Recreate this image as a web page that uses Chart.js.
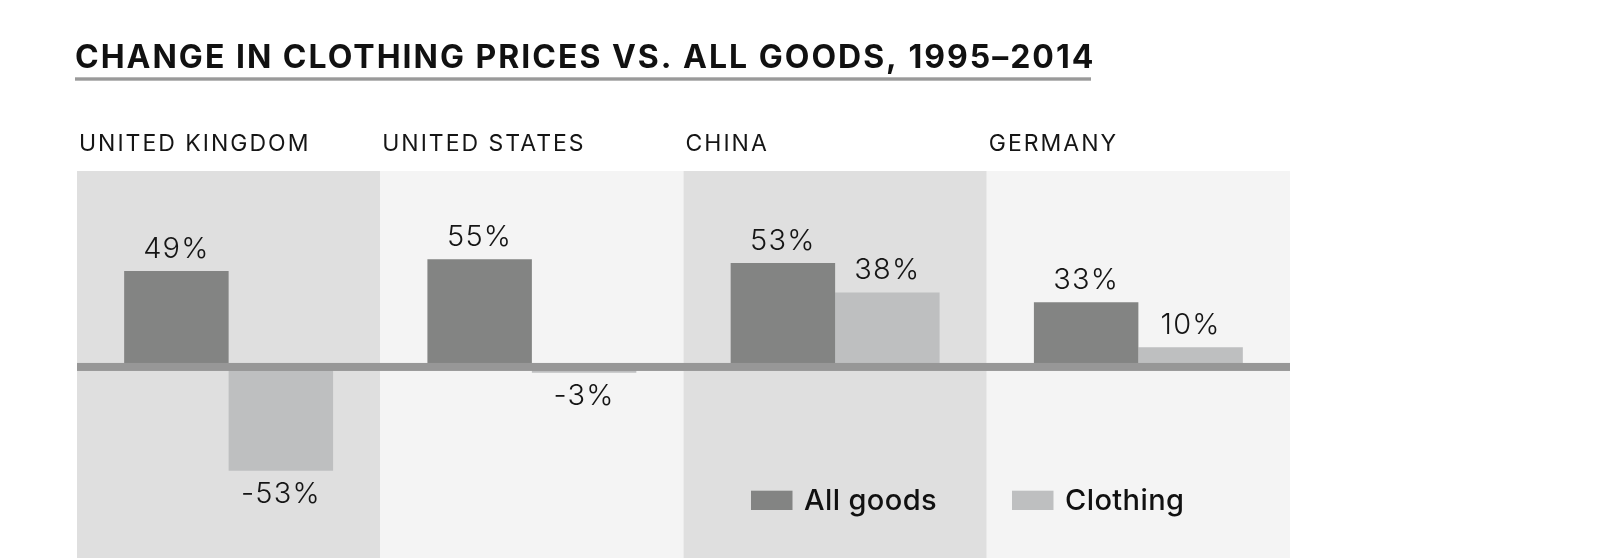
<!DOCTYPE html>
<html>
<head>
<meta charset="utf-8">
<script src="https://cdn.jsdelivr.net/npm/chart.js@4.4.1/dist/chart.umd.min.js"></script>
<style>
  html, body { margin: 0; padding: 0; background: #ffffff; }
  #wrap { width: 1606px; height: 559px; position: relative; }
</style>
</head>
<body>
<div id="wrap"><canvas id="c" width="1606" height="559"></canvas></div>
<script>
const titleText = "CHANGE IN CLOTHING PRICES VS. ALL GOODS, 1995\u20132014";
const countries = ["UNITED KINGDOM", "UNITED STATES", "CHINA", "GERMANY"];
const seriesNames = ["All goods", "Clothing"];
const allGoods = [49, 55, 53, 33];
const clothing = [-53, -3, 38, 10];
const seriesColors = ["#838483", "#bebfc0"];
const bandColors = ["#dfdfdf", "#f4f4f4"];

const FONT = "Inter, 'Open Sans', sans-serif";

const bandsPlugin = {
  id: "bands",
  beforeDatasetsDraw(chart) {
    const { ctx, chartArea, scales } = chart;
    const x = scales.x;
    const w = (chartArea.right - chartArea.left) / countries.length;
    ctx.save();
    countries.forEach((c, i) => {
      const cx = x.getPixelForValue(i);
      ctx.fillStyle = bandColors[i % 2];
      ctx.fillRect(cx - w / 2, chartArea.top, w, chartArea.bottom - chartArea.top);
    });
    ctx.restore();
  },
  afterDatasetsDraw(chart) {
    const { ctx, chartArea, scales } = chart;
    const x = scales.x, y = scales.y;
    const w = (chartArea.right - chartArea.left) / countries.length;
    ctx.save();
    // zero line
    const y0 = y.getPixelForValue(0);
    ctx.fillStyle = "#979797";
    ctx.fillRect(chartArea.left, y0 - 4, chartArea.right - chartArea.left, 8);
    // value labels
    ctx.fillStyle = "#151515";
    ctx.font = "300 29px " + FONT;
    ctx.letterSpacing = "1.2px";
    ctx.textAlign = "center";
    chart.data.datasets.forEach((ds, di) => {
      const meta = chart.getDatasetMeta(di);
      meta.data.forEach((bar, i) => {
        const v = ds.data[i];
        const label = v + "%";
        if (v >= 0) {
          ctx.textBaseline = "alphabetic";
          ctx.fillText(label, bar.x, bar.y - 13);
        } else {
          ctx.textBaseline = "top";
          ctx.fillText(label, bar.x, bar.y + 9);
        }
      });
    });
    // country labels
    ctx.font = "400 23px " + FONT;
    ctx.letterSpacing = "2px";
    ctx.textAlign = "left";
    ctx.textBaseline = "alphabetic";
    countries.forEach((c, i) => {
      const cx = x.getPixelForValue(i);
      ctx.fillText(c, cx - w / 2 + 2, chartArea.top - 20);
    });
    // title
    ctx.font = "700 32px " + FONT;
    ctx.letterSpacing = "2px";
    ctx.fillStyle = "#111111";
    ctx.fillText(titleText, 75, 67.5);
    ctx.fillStyle = "#9a9a9a";
    ctx.fillRect(75, 77.3, 1016, 3.4);
    // legend
    ctx.font = "500 29px " + FONT;
    ctx.letterSpacing = "0.4px";
    ctx.textBaseline = "alphabetic";
    const legendX = [751, 1012];
    seriesNames.forEach((n, i) => {
      ctx.fillStyle = seriesColors[i];
      ctx.fillRect(legendX[i], 490.7, 41.5, 19.3);
      ctx.fillStyle = "#111111";
      ctx.fillText(n, legendX[i] + 53, 510);
    });
    ctx.restore();
  }
};

new Chart(document.getElementById("c"), {
  type: "bar",
  data: {
    labels: countries,
    datasets: [
      { label: seriesNames[0], data: allGoods, backgroundColor: seriesColors[0], borderWidth: 0 },
      { label: seriesNames[1], data: clothing, backgroundColor: seriesColors[1], borderWidth: 0 }
    ]
  },
  options: {
    responsive: false,
    animation: false,
    devicePixelRatio: 1,
    categoryPercentage: 0.689,
    barPercentage: 1,
    layout: { padding: { left: 77, top: 171, right: 316, bottom: 1 } },
    plugins: { legend: { display: false }, tooltip: { enabled: false }, title: { display: false } },
    scales: {
      x: { display: false },
      y: { display: false, min: -97.5, max: 100 }
    }
  },
  plugins: [bandsPlugin]
});
</script>
</body>
</html>
